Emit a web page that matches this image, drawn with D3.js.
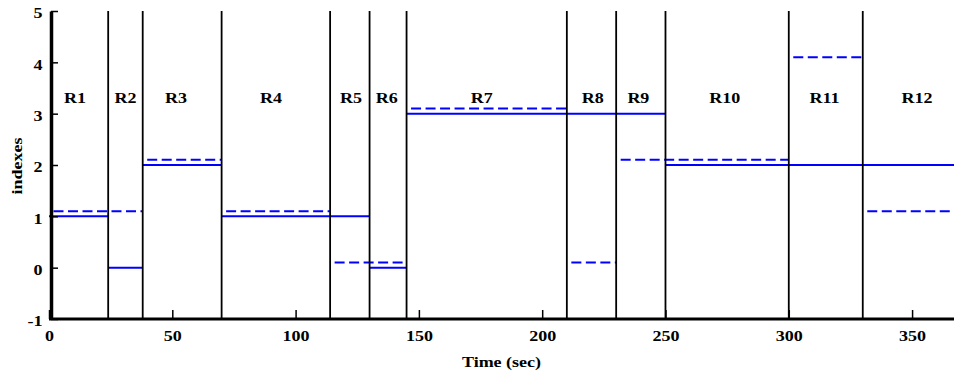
<!DOCTYPE html>
<html>
<head>
<meta charset="utf-8">
<script src="https://cdn.jsdelivr.net/npm/d3@7"></script>
<style>
  html, body { margin: 0; padding: 0; background: #fff; }
  svg { display: block; }
  text { font-family: "Liberation Serif", "Times New Roman", serif; font-weight: bold; font-size: 15px; fill: #000; }
</style>
</head>
<body>
<svg id="chart" width="954" height="375"></svg>
<script>
// Region boundaries along the time axis (seconds)
const boundaries = [0, 24, 38, 70, 114, 130, 145, 210, 230, 250, 300, 330, 367];
const regionNames = ["R1", "R2", "R3", "R4", "R5", "R6", "R7", "R8", "R9", "R10", "R11", "R12"];
// Time at which each region's name is written
const labelTimes = [10.5, 31, 51.5, 90, 122.5, 137, 175.5, 220.5, 239, 274, 314.5, 352];
// True index per region (solid) and estimated index per region (dashed)
const actualIndex = [1, 0, 2, 1, 1, 0, 3, 3, 3, 2, 2, 2];
const estimatedIndex = [1, 1, 2, 1, 0, 0, 3, 0, 2, 2, 4, 1];
// Estimated index is drawn slightly raised so both lines stay visible
const estimatedLift = 0.1;
// Axis ticks
const xTicks = [0, 50, 100, 150, 200, 250, 300, 350];
const yTicks = [-1, 0, 1, 2, 3, 4, 5];

const svg = d3.select("#chart");
const stretch = "scale(1.2,1)";
const plainNumber = d => String(d);

const x = d3.scaleLinear().domain([0, 367]).range([49, 954]);
const y = d3.scaleLinear().domain([-1, 5]).range([319, 11]);

// Solid line: one horizontal segment per region
svg.append("g")
  .selectAll("line")
  .data(actualIndex)
  .join("line")
  .attr("x1", (d, i) => x(boundaries[i]))
  .attr("x2", (d, i) => x(boundaries[i + 1]))
  .attr("y1", d => y(d))
  .attr("y2", d => y(d))
  .attr("stroke", "#0000ff")
  .attr("stroke-width", 2);

// Dashed line: consecutive regions with the same estimate share one dashed run
const runs = [];
estimatedIndex.forEach((v, i) => {
  const last = runs[runs.length - 1];
  if (last && last.value === v) last.end = boundaries[i + 1];
  else runs.push({ value: v, start: boundaries[i], end: boundaries[i + 1] });
});
svg.append("g")
  .selectAll("line")
  .data(runs)
  .join("line")
  .attr("x1", d => x(d.start))
  .attr("x2", d => x(d.end))
  .attr("y1", d => y(d.value + estimatedLift))
  .attr("y2", d => y(d.value + estimatedLift))
  .attr("stroke", "#0000ff")
  .attr("stroke-width", 2)
  .attr("stroke-dasharray", "10,4.5")
  .attr("stroke-dashoffset", 10);

// Vertical region separators
svg.append("g")
  .selectAll("line")
  .data(boundaries.slice(1, -1))
  .join("line")
  .attr("x1", d => x(d))
  .attr("x2", d => x(d))
  .attr("y1", y(5))
  .attr("y2", y(-1))
  .attr("stroke", "#000")
  .attr("stroke-width", 1.8);

// Region names
svg.append("g")
  .selectAll("text")
  .data(regionNames)
  .join("text")
  .attr("transform", (d, i) => `translate(${x(labelTimes[i])},103) ${stretch}`)
  .attr("text-anchor", "middle")
  .text(d => d);

// X axis (ticks point inward)
const xAxis = svg.append("g")
  .attr("transform", `translate(0,${y(-1)})`)
  .call(d3.axisBottom(x).tickValues(xTicks).tickSize(-9).tickSizeOuter(0).tickFormat(plainNumber));
xAxis.select(".domain").attr("stroke-width", 3).attr("d", `M${x(0)},0H${x(367)}`);
xAxis.selectAll(".tick line").attr("stroke-width", 1.5);
xAxis.selectAll(".tick text")
  .attr("y", 22.5).attr("dy", 0)
  .attr("transform", stretch);

// Y axis (ticks point inward)
const yAxis = svg.append("g")
  .attr("transform", `translate(${x(0) + 2},0)`)
  .call(d3.axisLeft(y).tickValues(yTicks).tickSize(-7).tickSizeOuter(0).tickFormat(plainNumber));
yAxis.select(".domain").attr("stroke-width", 3.5);
yAxis.selectAll(".tick line").attr("stroke-width", 1.5);
yAxis.selectAll(".tick text")
  .attr("x", -7).attr("dy", "0.45em")
  .attr("transform", stretch);
svg.selectAll(".tick text").attr("fill", "#000");

// Axis titles
svg.append("text")
  .attr("transform", `translate(${(x(0) + x(367)) / 2},367) ${stretch}`)
  .attr("text-anchor", "middle")
  .text("Time (sec)");

svg.append("text")
  .attr("transform", `translate(21.5,166) rotate(-90) ${stretch}`)
  .attr("text-anchor", "middle")
  .text("indexes");
</script>
</body>
</html>
